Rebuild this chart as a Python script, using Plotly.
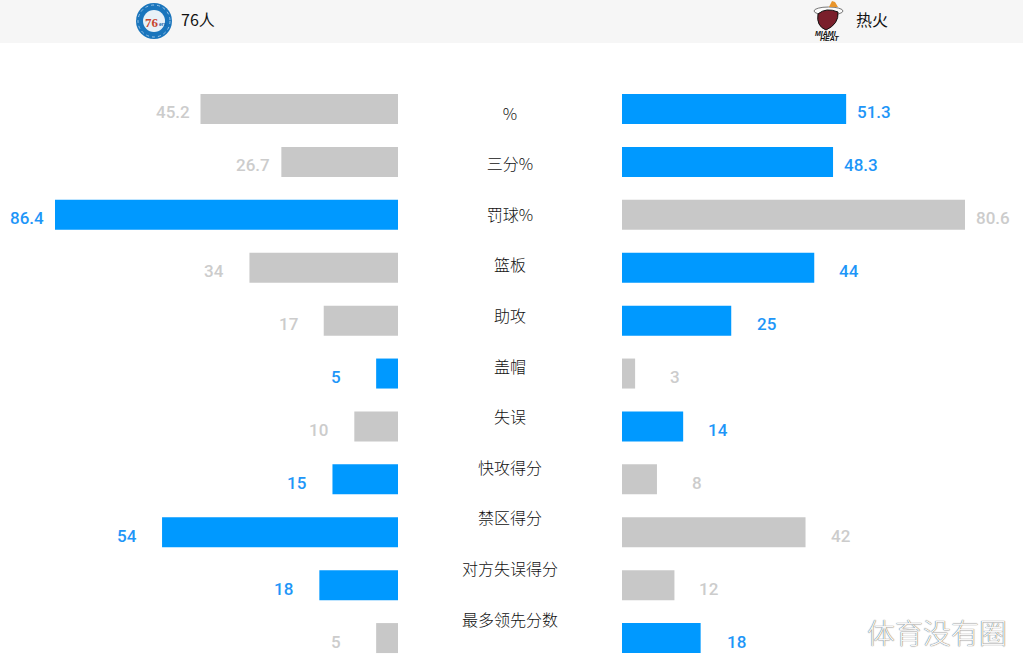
import plotly.graph_objects as go

W = 1023
H = 664

stats = ["%", "三分%", "罚球%", "篮板", "助攻", "盖帽", "失误", "快攻得分", "禁区得分", "对方失误得分", "最多领先分数"]
sixers = [45.2, 26.7, 86.4, 34, 17, 5, 10, 15, 54, 18, 5]
heat = [51.3, 48.3, 80.6, 44, 25, 3, 14, 8, 42, 12, 18]
team_left = "76人"
team_right = "热火"
watermark = "体育没有圈"

BLUE = "#0099ff"
GREY = "#c8c8c8"
LABEL_BLUE = "#1e96f8"
XMAX = 78.5  # long bars get cut at the axis end


def px(x):
    return x / W


def py(y):
    return 1 - y / H


left_colors = [BLUE if a > b else GREY for a, b in zip(sixers, heat)]
right_colors = [BLUE if b > a else GREY for a, b in zip(sixers, heat)]

fig = go.Figure()
fig.add_trace(go.Bar(x=sixers, y=stats, orientation="h", marker_color=left_colors, marker_line_width=0,
                     width=0.567, xaxis="x", yaxis="y", hoverinfo="x+y"))
fig.add_trace(go.Bar(x=heat, y=stats, orientation="h", marker_color=right_colors, marker_line_width=0,
                     width=0.567, xaxis="x2", yaxis="y2", hoverinfo="x+y"))
fig.add_trace(go.Scatter(x=[0] * len(stats), y=stats, mode="text", text=stats, textposition="middle center",
                         textfont=dict(family="Noto Sans CJK SC", size=16, weight=300, color="#111111"),
                         xaxis="x3", yaxis="y3", hoverinfo="skip"))

hidden = dict(visible=False, showgrid=False, zeroline=False)
ybars = dict(hidden, type="category", categoryorder="array", categoryarray=stats, range=[10.49, -0.5],
             domain=[0, py(82.55)])
fig.update_layout(
    width=W, height=H, margin=dict(l=0, r=0, t=0, b=0), showlegend=False,
    paper_bgcolor="white", plot_bgcolor="rgba(0,0,0,0)",
    xaxis=dict(hidden, range=[XMAX, 0], domain=[px(55), px(398)], anchor="y"),
    yaxis=dict(ybars, anchor="x"),
    xaxis2=dict(hidden, range=[0, XMAX], domain=[px(622), px(965)], anchor="y2"),
    yaxis2=dict(ybars, anchor="x2"),
    xaxis3=dict(hidden, range=[-1, 1], domain=[px(400), px(620)], anchor="y3"),
    yaxis3=dict(hidden, type="category", categoryorder="array", categoryarray=stats, range=[10.5, -0.5],
                domain=[py(647), py(90.4)], anchor="x3"),
)

# value labels sit in a fixed 45px box next to the bar end
for s, a, b, ca, cb in zip(stats, sixers, heat, left_colors, right_colors):
    fig.add_annotation(x=min(a, XMAX), y=s, xref="x", yref="y", text=str(a), showarrow=False,
                       xanchor="left", xshift=-45, yshift=-3.5, borderpad=0, borderwidth=0,
                       font=dict(family="Roboto", size=17, weight=500, color=LABEL_BLUE if ca == BLUE else "#cccccc"))
    fig.add_annotation(x=min(b, XMAX), y=s, xref="x2", yref="y2", text=str(b), showarrow=False,
                       xanchor="right", xshift=45, yshift=-3.5, borderpad=0, borderwidth=0,
                       font=dict(family="Roboto", size=17, weight=500, color=LABEL_BLUE if cb == BLUE else "#cccccc"))


def rect(x0, y0, x1, y1, **kw):
    fig.add_shape(type="rect", xref="paper", yref="paper", x0=px(x0), y0=py(y0), x1=px(x1), y1=py(y1), **kw)


def circle(x0, y0, x1, y1, **kw):
    fig.add_shape(type="circle", xref="paper", yref="paper", x0=px(x0), y0=py(y0), x1=px(x1), y1=py(y1), **kw)


def note(x, y, text, size, color, family="Noto Sans CJK SC", anchor="left", **kw):
    fig.add_annotation(x=px(x), y=py(y), xref="paper", yref="paper", text=text, showarrow=False,
                       xanchor=anchor, yanchor="middle", borderpad=0,
                       font=dict(family=family, size=size, color=color, **kw))


# header band
rect(0, 0, W, 43, fillcolor="#f6f6f6", line_width=0, layer="below")

# 76ers badge
circle(136, 3, 172, 39, fillcolor="#1a75bc", line_width=0)
circle(143, 10, 165, 32, fillcolor="#e8f1f8", line_width=0)
circle(138, 5, 170, 37, fillcolor="rgba(0,0,0,0)", line=dict(color="#9cc6e8", width=1, dash="dot"))
note(152, 23, "<b>76</b>", 13, "#c8452f", family="Liberation Serif", anchor="center")
note(163, 24, "<b>ers</b>", 5, "#1261a8", family="Liberation Sans", anchor="center")
note(180, 19, team_left, 16, "#111111")

# heat badge
circle(814, 7, 843, 15, fillcolor="rgba(255,255,255,0.6)", line=dict(color="#777777", width=1))
fig.add_shape(type="path", xref="paper", yref="paper", fillcolor="#7a1f2b", line=dict(color="#111111", width=1),
              path=f"M {px(818)} {py(14)} Q {px(826)} {py(7)} {px(838)} {py(12)} "
                   f"Q {px(839)} {py(24)} {px(826)} {py(30)} Q {px(816)} {py(26)} {px(818)} {py(14)} Z")
fig.add_shape(type="path", xref="paper", yref="paper", fillcolor="#e8952c", line_width=0,
              path=f"M {px(829)} {py(7)} L {px(832)} {py(1)} L {px(835)} {py(2)} L {px(838)} {py(7)} Z")
note(826, 34, "<b><i>MIAMI</i></b>", 7, "#111111", family="Liberation Sans", anchor="center")
note(829, 39, "<b><i>HEAT</i></b>", 7, "#111111", family="Liberation Sans", anchor="center")
note(855, 19, team_right, 16, "#111111")

# watermark
note(866, 632, watermark, 28, "#f6f6f6", weight=300, shadow="0px 0px 1px #222222")

fig.write_html("out.html", config=dict(displayModeBar=False), post_script="document.body.style.margin='0';")
